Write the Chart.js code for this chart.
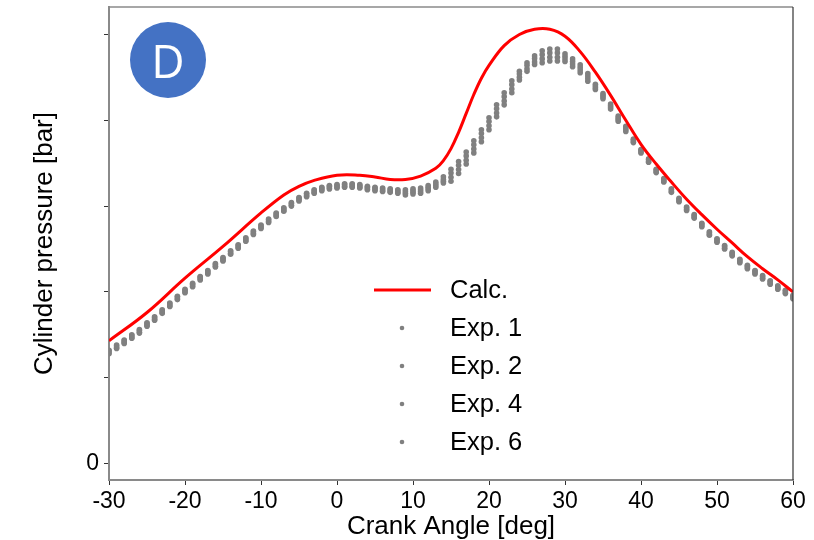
<!DOCTYPE html>
<html><head><meta charset="utf-8">
<script src="https://cdn.jsdelivr.net/npm/chart.js@4.4.1/dist/chart.umd.min.js"></script>
<style>
html,body{margin:0;padding:0;background:#fff;}
#wrap{position:relative;width:814px;height:540px;}
#badge{position:absolute;left:130px;top:22px;width:76px;height:76px;border-radius:50%;background:#4472C4;color:#fff;font-family:"Open Sans","Liberation Sans",Arial,sans-serif;font-size:46px;line-height:76px;text-align:center;}
</style></head><body>
<div id="wrap"><canvas id="c" width="814" height="540"></canvas><div id="badge">D</div></div>
<script>
// ---- data ----
const calcAngle = [-30,-25,-20,-15,-10,-7,-5,-3,0,3,5,7,9,11,13,14,15,16,17,18,19,20,22,24,26,28,30,32,34,36,38,40,42,44,46,48,50,52,54,56,58,60];
const calcValue = [14.3,17.6,21.6,25.3,29.2,31.3,32.3,33.0,33.6,33.6,33.4,33.1,33.1,33.5,34.4,35.3,36.7,38.6,40.8,43.0,44.9,46.4,48.7,50.0,50.6,50.6,49.8,48.0,45.6,42.9,40.0,37.2,34.9,32.8,30.8,29.0,27.3,25.7,24.1,22.7,21.4,20.0];

const expAngle = [-30,-29,-28,-27,-26,-25,-24,-23,-22,-21,-20,-19,-18,-17,-16,-15,-14,-13,-12,-11,-10,-9,-8,-7,-6,-5,-4,-3,-2,-1,0,1,2,3,4,5,6,7,8,9,10,11,12,13,14,15,16,17,18,19,20,21,22,23,24,25,26,27,28,29,30,31,32,33,34,35,36,37,38,39,40,41,42,43,44,45,46,47,48,49,50,51,52,53,54,55,56,57,58,59,60];
const exp1 = [13.2,13.8,14.4,15.0,15.6,16.4,17.1,17.9,18.7,19.5,20.3,21.0,21.8,22.5,23.3,24.0,24.8,25.5,26.3,27.1,27.8,28.5,29.2,29.8,30.4,31.0,31.5,31.9,32.2,32.4,32.5,32.6,32.6,32.5,32.3,32.2,32.1,32.0,31.9,31.9,32.0,32.1,32.4,32.8,33.4,34.3,35.2,36.3,37.6,38.9,40.3,41.8,43.2,44.6,45.7,46.7,47.5,48.1,48.3,48.3,47.75,47.15,46.45,45.45,44.2,43.1,41.9,40.5,39.3,37.8,36.6,35.5,34.3,33.2,32.0,30.9,29.9,29.0,28.0,27.0,26.2,25.4,24.6,23.8,23.1,22.5,21.9,21.3,20.7,20.2,19.6];
const exp2 = [13.1,13.7,14.3,14.9,15.5,16.3,17.0,17.8,18.6,19.4,20.2,20.9,21.7,22.4,23.2,23.9,24.7,25.4,26.2,27.0,27.7,28.4,29.1,29.7,30.3,30.9,31.4,31.8,32.1,32.3,32.4,32.5,32.5,32.4,32.2,32.1,32.0,31.9,31.8,31.7,31.8,31.9,32.2,32.6,33.1,33.85,34.75,35.85,37.15,38.45,39.85,41.35,42.75,44.15,45.4,46.4,47.2,47.65,47.85,47.85,47.45,46.85,46.15,45.15,44.0,42.9,41.7,40.3,39.1,37.7,36.5,35.4,34.2,33.1,31.9,30.8,29.8,28.9,27.9,26.9,26.1,25.3,24.5,23.7,23.0,22.4,21.8,21.2,20.6,20.1,19.5];
const exp4 = [12.9,13.5,14.1,14.7,15.3,16.1,16.8,17.6,18.4,19.2,20.0,20.7,21.5,22.2,23.0,23.7,24.5,25.2,26.0,26.8,27.5,28.2,28.9,29.5,30.1,30.7,31.2,31.6,31.9,32.1,32.2,32.3,32.3,32.2,32.0,31.9,31.8,31.7,31.6,31.5,31.6,31.7,32.0,32.4,32.9,33.35,34.25,35.35,36.65,37.95,39.35,40.85,42.25,43.65,45.0,46.0,46.8,47.15,47.35,47.35,47.15,46.55,45.85,44.85,43.8,42.7,41.5,40.1,38.9,37.5,36.3,35.2,34.0,32.9,31.7,30.6,29.6,28.7,27.7,26.7,25.9,25.1,24.3,23.5,22.8,22.2,21.6,21.0,20.4,19.9,19.3];
const exp6 = [12.8,13.4,14.0,14.6,15.2,16.0,16.7,17.5,18.3,19.1,19.9,20.6,21.4,22.1,22.9,23.6,24.4,25.1,25.9,26.7,27.4,28.1,28.8,29.4,30.0,30.6,31.1,31.5,31.8,32.0,32.1,32.2,32.2,32.1,31.9,31.8,31.7,31.6,31.5,31.3,31.4,31.5,31.8,32.2,32.7,32.9,33.8,34.9,36.2,37.5,38.9,40.4,41.8,43.2,44.7,45.7,46.5,46.7,46.9,46.9,46.85,46.25,45.55,44.55,43.6,42.5,41.3,39.9,38.7,37.4,36.2,35.1,33.9,32.8,31.6,30.5,29.5,28.6,27.6,26.6,25.8,25.0,24.2,23.4,22.7,22.1,21.5,20.9,20.3,19.8,19.2];

const seriesLabels = ['Calc.','Exp. 1','Exp. 2','Exp. 4','Exp. 6'];
const xTickValues = [-30,-20,-10,0,10,20,30,40,50,60];
const yLabelledTicks = [0];

// ---- build ----
const pts = (xs, ys) => xs.map((x, i) => ({x, y: ys[i]}));
const expSeries = [exp1, exp2, exp4, exp6];

Chart.defaults.font.family = '"Liberation Sans", Arial, sans-serif';
Chart.defaults.color = '#000';

const datasets = [{
  type: 'line',
  label: seriesLabels[0],
  data: pts(calcAngle, calcValue),
  borderColor: '#ff0000',
  borderWidth: 3,
  pointRadius: 0,
  tension: 0.4,
  fill: false,
  clip: 0
}].concat(expSeries.map((s, i) => ({
  type: 'scatter',
  label: seriesLabels[i + 1],
  data: pts(expAngle, s),
  backgroundColor: '#808080',
  borderWidth: 0,
  pointRadius: 2.8,
  clip: 0
})));

const framePlugin = {
  id: 'frame',
  afterDraw(chart) {
    const {ctx, chartArea: a} = chart;
    ctx.save();
    ctx.strokeStyle = '#8a8a8a';
    ctx.lineWidth = 1.5;
    ctx.beginPath(); ctx.moveTo(a.left, a.top); ctx.lineTo(a.right, a.top); ctx.stroke();
    ctx.strokeStyle = '#333';
    ctx.lineWidth = 1.2;
    ctx.beginPath(); ctx.moveTo(a.right, a.top); ctx.lineTo(a.right, a.bottom); ctx.stroke();
    ctx.restore();
  }
};

const legendPlugin = {
  id: 'innerLegend',
  afterDraw(chart) {
    const {ctx} = chart;
    const x0 = 374, x1 = 431, xm = 402, xt = 450, y0 = 290, dy = 38;
    ctx.save();
    ctx.font = '25.5px "Liberation Sans", Arial, sans-serif';
    ctx.textBaseline = 'middle';
    chart.data.datasets.forEach((ds, i) => {
      const y = y0 + i * dy;
      if (ds.type === 'line') {
        ctx.strokeStyle = ds.borderColor; ctx.lineWidth = ds.borderWidth;
        ctx.beginPath(); ctx.moveTo(x0, y); ctx.lineTo(x1, y); ctx.stroke();
      } else {
        ctx.fillStyle = ds.backgroundColor;
        ctx.beginPath(); ctx.arc(xm, y, 2.3, 0, Math.PI * 2); ctx.fill();
      }
      ctx.fillStyle = '#000';
      ctx.fillText(ds.label, xt, y + 1);
    });
    ctx.restore();
  }
};

new Chart(document.getElementById('c'), {
  type: 'scatter',
  data: {datasets},
  plugins: [framePlugin, legendPlugin],
  options: {
    responsive: false,
    animation: false,
    devicePixelRatio: 1,
    layout: {padding: {top: 7, right: 21, left: 0, bottom: 0}},
    plugins: {legend: {display: false}, tooltip: {enabled: false}},
    scales: {
      x: {
        type: 'linear', min: -30, max: 60,
        afterBuildTicks: s => { s.ticks = xTickValues.map(v => ({value: v})); },
        afterFit: s => { s.height = 60; s.paddingRight = 0; },
        ticks: {font: {size: 23}, color: '#000', padding: 3, maxRotation: 0, callback: v => String(v)},
        grid: {drawOnChartArea: false, drawTicks: true, tickLength: 5, tickColor: '#333', tickWidth: 1},
        border: {display: true, color: '#8a8a8a', width: 2},
        title: {display: true, text: 'Crank Angle [deg]', font: {size: 26, lineHeight: 1}, color: '#000', padding: {top: 0, bottom: 0}}
      },
      y: {
        type: 'linear', min: -1.92, max: 53.2,
        afterFit: s => { s.width = 109; s.paddingTop = 0; s.paddingBottom = 0; },
        ticks: {stepSize: 10, includeBounds: false, font: {size: 23}, color: '#000', padding: 5,
          callback: v => yLabelledTicks.includes(v) ? String(v) : ''},
        grid: {drawOnChartArea: false, drawTicks: true, tickLength: 5, tickColor: '#333', tickWidth: 1},
        border: {display: true, color: '#8a8a8a', width: 2},
        title: {display: true, text: 'Cylinder pressure [bar]', font: {size: 26}, color: '#000', padding: {top: 29, bottom: 0}}
      }
    }
  }
});
</script>
</body></html>
